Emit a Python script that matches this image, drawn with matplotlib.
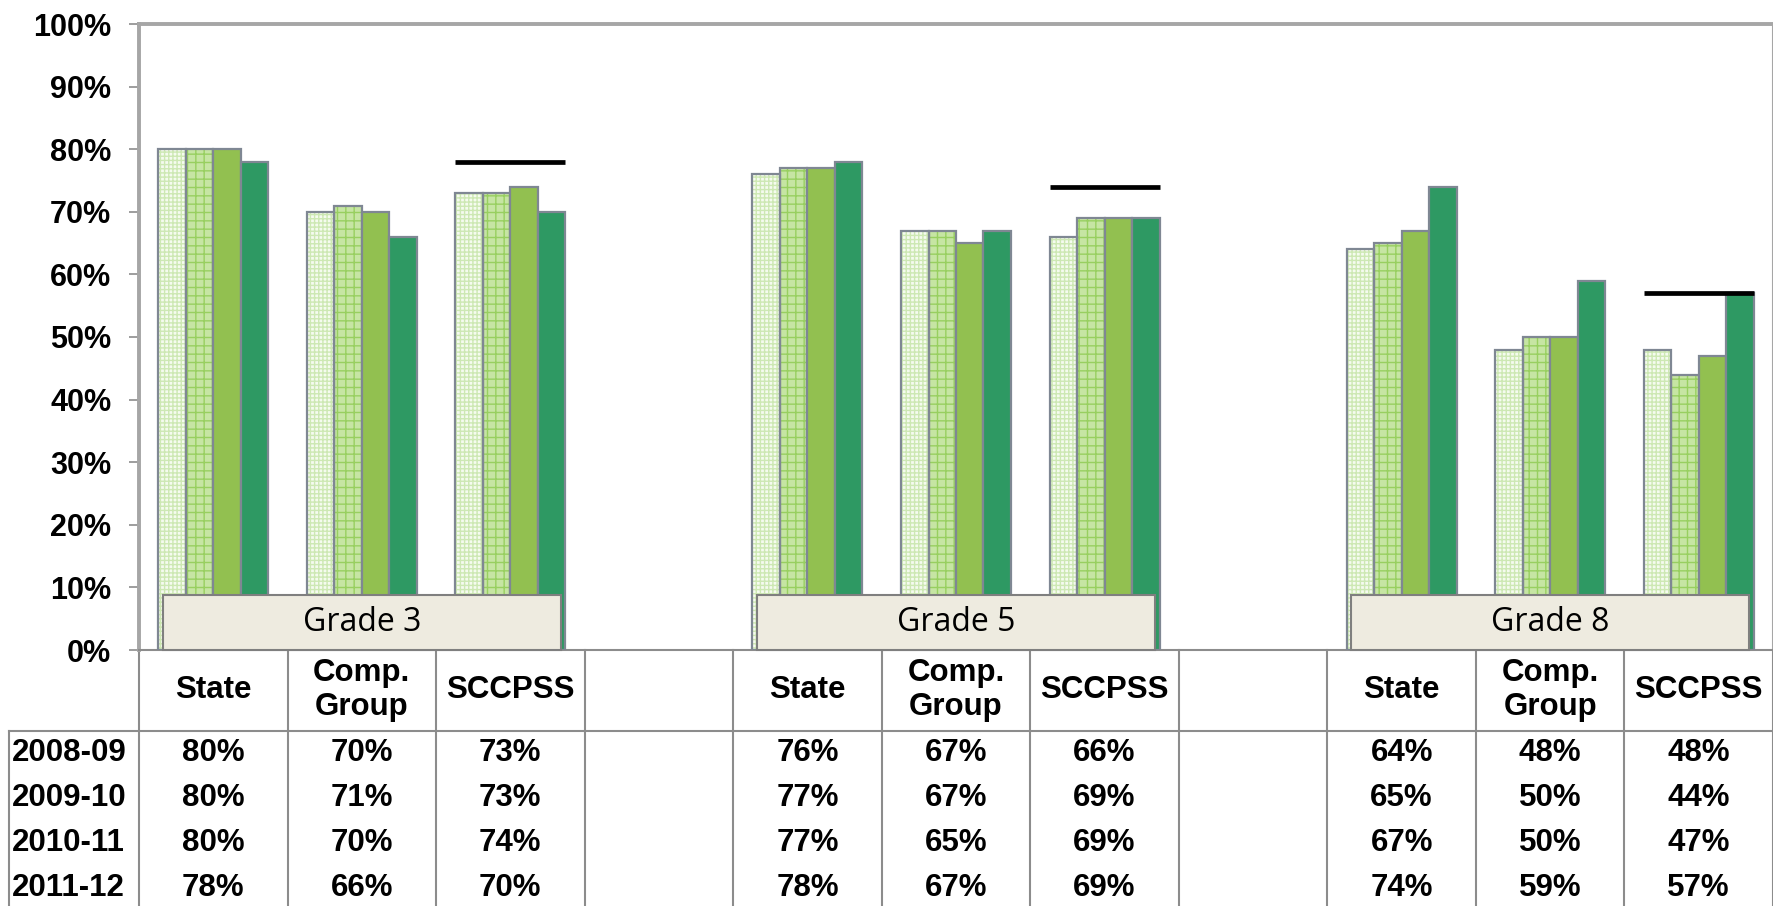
import matplotlib.pyplot as plt
import matplotlib.transforms as mtransforms
from matplotlib.patches import Rectangle

# data
grades = ['Grade 3', 'Grade 5', 'Grade 8']
groups = ['State', 'Comp.\nGroup', 'SCCPSS']
years = ['2008-09', '2009-10', '2010-11', '2011-12']
pct_0809 = [80, 70, 73, 76, 67, 66, 64, 48, 48]
pct_0910 = [80, 71, 73, 77, 67, 69, 65, 50, 44]
pct_1011 = [80, 70, 74, 77, 65, 69, 67, 50, 47]
pct_1112 = [78, 66, 70, 78, 67, 69, 74, 59, 57]
targets = [78, 74, 57]  # black marks over the SCCPSS bars

series = [pct_0809, pct_0910, pct_1011, pct_1112]

# bar styles: (face, hatch, hatch colour)
styles = [
    ('#F5FBEF', '++++', '#CDE8B3'),
    ('#C6E5A3', '++', '#98CF60'),
    ('#92C050', None, None),
    ('#2E9963', None, None),
]
EDGE = '#7F8793'
GRID_GRAY = '#8C8C8C'
table_font = dict(fontsize=22.5, fontweight='bold', family='Liberation Sans')

W, H = 1774, 906
plt.rcParams['hatch.linewidth'] = 1.0
fig = plt.figure(figsize=(W / 100, H / 100), dpi=100)
ax = fig.add_axes([139 / W, (H - 650) / H, (1773 - 139) / W, (650 - 24) / H])

ncat = 11
bw = 0.185


def cat_index(g, j):
    return 4 * g + j


# bars
for s, vals in enumerate(series):
    face, hatch, hcol = styles[s]
    xs = []
    for g in range(len(grades)):
        for j in range(len(groups)):
            xs.append(cat_index(g, j) + 0.5 + (s - 1.5) * bw)
    if hatch:
        ax.bar(xs, vals, width=bw, color=face, hatch=hatch, edgecolor=hcol,
               linewidth=0, zorder=2)
        ax.bar(xs, vals, width=bw, fill=False, edgecolor=EDGE, linewidth=1.6, zorder=3)
    else:
        ax.bar(xs, vals, width=bw, color=face, edgecolor=EDGE, linewidth=1.6, zorder=3)

# target lines over SCCPSS groups
for g, t in enumerate(targets):
    cx = cat_index(g, 2) + 0.5
    ax.hlines(t, cx - 2 * bw, cx + 2 * bw, color='black', linewidth=3.4, zorder=5)

# grade label boxes
for g, name in enumerate(grades):
    cx = cat_index(g, 1) + 0.5
    ax.add_patch(Rectangle((cx - 1.34, 0), 2.68, 8.8, facecolor='#EEEBE0',
                           edgecolor='#7F7F7F', linewidth=1.5, zorder=4, clip_on=False))
    ax.text(cx, 4.4, name, ha='center', va='center', fontsize=23,
            family='Open Sans', zorder=6)

ax.set_xlim(0, ncat)
ax.set_ylim(0, 100)
ax.set_xticks([])
ax.set_yticks(range(0, 101, 10))
ax.set_yticklabels([f'{v}%' for v in range(0, 101, 10)],
                   fontsize=22, fontweight='bold', family='Liberation Sans')
ax.tick_params(axis='y', direction='out', length=7, width=1.2, color=GRID_GRAY, pad=13)
for side in ['left', 'top']:
    ax.spines[side].set_color('#A6A6A6')
    ax.spines[side].set_linewidth(2.8)
ax.spines['right'].set_color('#A6A6A6')
ax.spines['right'].set_linewidth(1.5)
ax.spines['bottom'].set_color(GRID_GRAY)
ax.spines['bottom'].set_linewidth(1.5)

# data table under the chart
trans = mtransforms.blended_transform_factory(ax.transData, fig.transFigure)


def fy(px):
    return (H - px) / H


for k in range(0, ncat + 1):
    ax.plot([k, k], [fy(650), fy(906)], transform=trans, color=GRID_GRAY,
            linewidth=1.5, clip_on=False)
fig.add_artist(plt.Line2D([9 / W, 1.0], [fy(731), fy(731)], color=GRID_GRAY, linewidth=1.5))
fig.add_artist(plt.Line2D([9 / W, 9 / W], [fy(731), fy(906)], color=GRID_GRAY, linewidth=1.5))

for g in range(len(grades)):
    for j, lab in enumerate(groups):
        ax.text(cat_index(g, j) + 0.5, fy(690), lab, transform=trans, ha='center',
                va='center', linespacing=1.15, **table_font)

row_y = [753, 798, 843, 888]
for r, yr in enumerate(years):
    fig.text(12 / W, fy(row_y[r]), yr, ha='left', va='center', **table_font)
    for g in range(len(grades)):
        for j in range(len(groups)):
            v = series[r][3 * g + j]
            ax.text(cat_index(g, j) + 0.5, fy(row_y[r]), f'{v}%', transform=trans,
                    ha='center', va='center', **table_font)

plt.savefig('out.png', dpi=100)
